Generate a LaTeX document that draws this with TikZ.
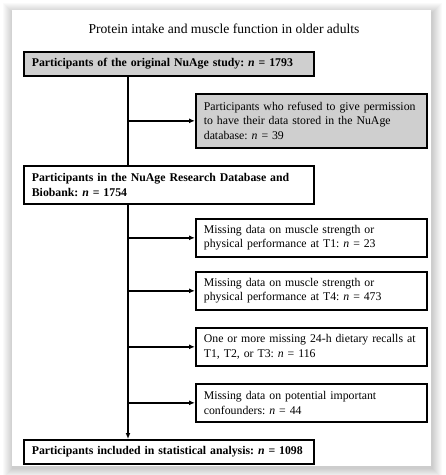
\documentclass[tikz,border=0pt]{standalone}
\usepackage{fontspec}
\setmainfont{Liberation Serif}
\usetikzlibrary{arrows.meta}
\newcommand\oneline[1]{\mbox{#1}}
\frenchspacing
\begin{document}
\begin{tikzpicture}[x=1pt,y=-1pt,
  box/.style={draw=black, line width=1.7pt, anchor=north west, inner xsep=8pt, inner ysep=2pt,
    align=left, font=\fontsize{11.8}{14.5}\selectfont},
  graybox/.style={box, fill=black!19},
  bigbox/.style={minimum width=290pt, text width=274pt},
  sidebox/.style={minimum width=231pt, text width=215pt, minimum height=38pt},
  trunkline/.style={line width=1.6pt},
  arr/.style={trunkline, -{Latex[length=6pt,width=5pt]}}]
\useasboundingbox (0,0) rectangle (446,475);
\fill[white] (0,0) rectangle (446,475);
% panel shadow
\foreach \i in {1,...,10} {
  \fill[black, opacity=0.018] (12-\i+1,10-\i+3) rectangle (431+\i+1,466+\i+2);
}
\fill[white] (12,10) rectangle (431,466);
\node[font=\fontsize{13.6}{16}\selectfont, anchor=base] (title) at (224,33) {Protein intake and muscle function in older adults};
\node[graybox, bigbox, minimum height=24pt] (b1) at (23,51) {\oneline{\textbf{Participants of the original NuAge study: \textit{n} = 1793}}};
\node[graybox, sidebox, minimum height=54pt] (b2) at (195,93) {\oneline{Participants who refused to give permission}\\\oneline{to have their data stored in the NuAge}\\\oneline{database: \textit{n} = 39}};
\node[box, bigbox, minimum height=38pt] (b3) at (23,165) {\oneline{\textbf{Participants in the NuAge Research Database and}}\\\oneline{\textbf{Biobank: \textit{n} = 1754}}};
\node[box, sidebox] (b4) at (195,218) {\oneline{Missing data on muscle strength or}\\\oneline{physical performance at T1: \textit{n} = 23}};
\node[box, sidebox] (b5) at (195,271) {\oneline{Missing data on muscle strength or}\\\oneline{physical performance at T4: \textit{n} = 473}};
\node[box, sidebox] (b6) at (195,327) {\oneline{One or more missing 24-h dietary recalls at}\\\oneline{T1, T2, or T3: \textit{n} = 116}};
\node[box, sidebox] (b7) at (195,383) {\oneline{Missing data on potential important}\\\oneline{confounders: \textit{n} = 44}};
\node[box, bigbox, minimum height=24pt] (b8) at (23,439) {\oneline{\textbf{Participants included in statistical analysis: \textit{n} = 1098}}};
\coordinate (trunk) at (128,0);
\draw[trunkline] (b1.south -| trunk) -- (b3.north -| trunk);
\draw[arr] (b3.south -| trunk) -- (b8.north -| trunk);
\foreach \b in {b2,b4,b5,b6,b7} {
  \draw[arr] (\b.west -| trunk) -- (\b.west);
}
\end{tikzpicture}
\end{document}
